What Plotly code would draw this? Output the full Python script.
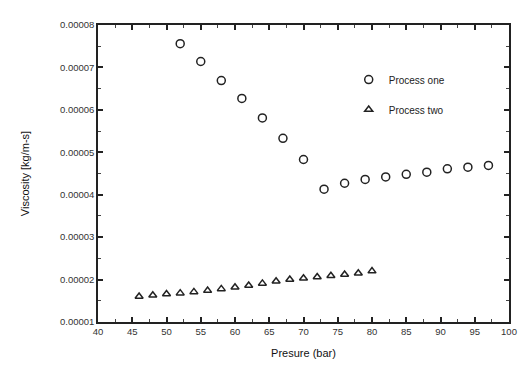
import plotly.graph_objects as go

# Data
pressure_one = [52, 55, 58, 61, 64, 67, 70, 73, 76, 79, 82, 85, 88, 91, 94, 97]
viscosity_one = [7.56e-5, 7.14e-5, 6.69e-5, 6.27e-5, 5.81e-5, 5.33e-5, 4.83e-5, 4.13e-5,
                 4.27e-5, 4.36e-5, 4.42e-5, 4.48e-5, 4.53e-5, 4.61e-5, 4.65e-5, 4.69e-5]
pressure_two = [46, 48, 50, 52, 54, 56, 58, 60, 62, 64, 66, 68, 70, 72, 74, 76, 78, 80]
viscosity_two = [1.60e-5, 1.63e-5, 1.66e-5, 1.68e-5, 1.71e-5, 1.74e-5, 1.78e-5, 1.82e-5, 1.86e-5,
                 1.91e-5, 1.96e-5, 2.00e-5, 2.03e-5, 2.06e-5, 2.09e-5, 2.12e-5, 2.15e-5, 2.20e-5]
x_ticks = [40, 45, 50, 55, 60, 65, 70, 75, 80, 85, 90, 95, 100]
y_ticks = [1e-5, 2e-5, 3e-5, 4e-5, 5e-5, 6e-5, 7e-5, 8e-5]
y_tick_labels = ["0.00001", "0.00002", "0.00003", "0.00004", "0.00005", "0.00006", "0.00007", "0.00008"]

FONT = "Liberation Sans, Arial"

fig = go.Figure()
fig.add_trace(go.Scatter(
    x=pressure_one, y=viscosity_one, mode="markers", name="Process one", legendgroup="a",
    marker=dict(symbol="circle-open", size=8, color="#222", line=dict(width=1.5, color="#222")),
))
fig.add_trace(go.Scatter(
    x=pressure_two, y=viscosity_two, mode="markers", name="Process two", legendgroup="b",
    marker=dict(symbol="triangle-up-open", size=7, color="#222", line=dict(width=1.5, color="#222")),
))

axis_common = dict(
    showline=True, linecolor="#222", linewidth=1.5, mirror="ticks",
    ticks="inside", ticklen=5, tickwidth=1.5, tickcolor="#222",
    showgrid=False, zeroline=False,
    tickfont=dict(family=FONT, size=9.5, color="#333"),
)

fig.update_xaxes(
    range=[40, 100], tickvals=x_ticks,
    minor=dict(ticks="inside", ticklen=3, tickwidth=1, tickcolor="#444", dtick=2.5, tick0=40),
    title=dict(text="Presure (bar)", font=dict(family=FONT, size=11, color="#111"), standoff=13),
    **axis_common,
)
fig.update_yaxes(
    range=[1e-5, 8e-5], tickvals=y_ticks, ticktext=y_tick_labels,
    minor=dict(ticks="inside", ticklen=3, tickwidth=1, tickcolor="#444", dtick=0.5e-5, tick0=1e-5),
    title=dict(text="Viscosity [kg/m-s]", font=dict(family=FONT, size=11, color="#111"), standoff=28),
    **axis_common,
)

fig.update_layout(
    width=528, height=369,
    margin=dict(l=98, r=11, t=25, b=46),
    plot_bgcolor="white", paper_bgcolor="white",
    showlegend=True,
    legend=dict(
        x=0.61, y=0.865, xanchor="left", yanchor="top",
        bgcolor="rgba(0,0,0,0)", borderwidth=0,
        font=dict(family=FONT, size=10, color="#222"),
        tracegroupgap=11, traceorder="grouped",
    ),
)

fig.write_html("out.html")
